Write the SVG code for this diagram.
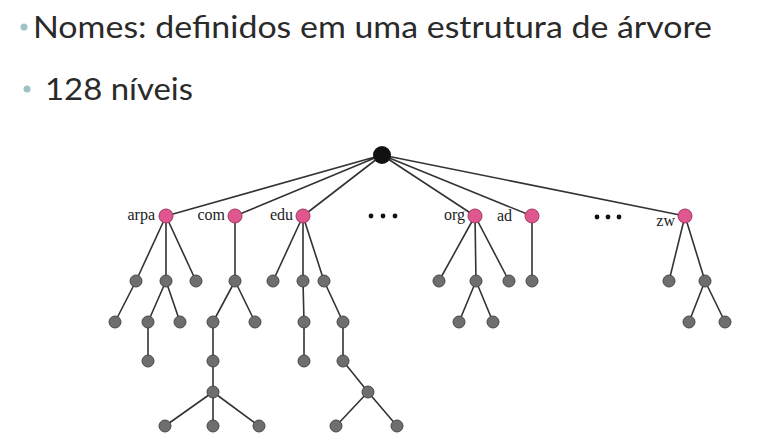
<svg xmlns="http://www.w3.org/2000/svg" width="762" height="444" viewBox="0 0 762 444">
<style>
.t{font-family:Lato,"Open Sans",sans-serif;font-size:30px;fill:#2a2a2a}
.b{fill:#9fc3c5}
.l{font-family:"Liberation Serif",serif;font-size:16px;fill:#222}
.e{stroke:#333;stroke-width:1.6;fill:none}
.g{fill:#6e6e6e;stroke:#474747;stroke-width:1}
.p{fill:#e0568f;stroke:#9a3a63;stroke-width:1}
.d{fill:#111}
</style>
<rect width="762" height="444" fill="#fff"/>
<g id="header">
<circle class="b" cx="24" cy="27" r="3.5"/>
<text class="t" x="33" y="38" textLength="679" lengthAdjust="spacingAndGlyphs">Nomes: definidos em uma estrutura de árvore</text>
<circle class="b" cx="27" cy="89" r="3.5"/>
<text class="t" x="45" y="100" textLength="148" lengthAdjust="spacingAndGlyphs">128 níveis</text>
</g>
<g id="connectors" class="e">
<path d="M382 155L166 216M382 155L235 216M382 155L303 216M382 155L475 216M382 155L532 216M382 155L685 216"/>
<path d="M166 216L136 281M166 216L166 281M166 216L196 281M235 216L235 281M303 216L273 281M303 216L303 281M303 216L324 281"/>
<path d="M475 216L439 281M475 216L476 281M475 216L509 281M532 216L532 281M685 216L669 281M685 216L705 281"/>
<path d="M136 281L115 322M166 281L148 322M166 281L180 322M148 322L148 361M235 281L213 322M235 281L255 322M213 322L213 361L213 392M213 392L165 426M213 392L213 426M213 392L259 426"/>
<path d="M303 281L304 322L304 361M324 281L343 322L343 361L368 392M368 392L336 426M368 392L397 426"/>
<path d="M476 281L459 322M476 281L493 322M705 281L689 322M705 281L725 322"/>
</g>
<g id="root"><circle cx="382" cy="155" r="9" fill="#111"/></g>
<g id="arpa"><circle class="p" cx="166" cy="216" r="7"/><text class="l" x="155" y="220" text-anchor="end">arpa</text></g>
<g id="com"><circle class="p" cx="235" cy="216" r="7"/><text class="l" x="225" y="220" text-anchor="end">com</text></g>
<g id="edu"><circle class="p" cx="303" cy="216" r="7"/><text class="l" x="293" y="220" text-anchor="end">edu</text></g>
<g id="org"><circle class="p" cx="475" cy="216" r="7"/><text class="l" x="465" y="220" text-anchor="end">org</text></g>
<g id="ad"><circle class="p" cx="532" cy="216" r="7"/><text class="l" x="512" y="221" text-anchor="end">ad</text></g>
<g id="zw"><circle class="p" cx="685" cy="216" r="7"/><text class="l" x="675" y="226" text-anchor="end">zw</text></g>
<g id="ellipsis1"><circle class="d" cx="371" cy="216" r="2.4"/><circle class="d" cx="383" cy="216" r="2.4"/><circle class="d" cx="395" cy="216" r="2.4"/></g>
<g id="ellipsis2"><circle class="d" cx="597" cy="217" r="2.4"/><circle class="d" cx="608" cy="217" r="2.4"/><circle class="d" cx="619" cy="217" r="2.4"/></g>
<g id="leaves">
<circle class="g" cx="136" cy="281" r="6"/><circle class="g" cx="166" cy="281" r="6"/><circle class="g" cx="196" cy="281" r="6"/>
<circle class="g" cx="235" cy="281" r="6"/>
<circle class="g" cx="273" cy="281" r="6"/><circle class="g" cx="303" cy="281" r="6"/><circle class="g" cx="324" cy="281" r="6"/>
<circle class="g" cx="439" cy="281" r="6"/><circle class="g" cx="476" cy="281" r="6"/><circle class="g" cx="509" cy="281" r="6"/>
<circle class="g" cx="532" cy="281" r="6"/>
<circle class="g" cx="669" cy="281" r="6"/><circle class="g" cx="705" cy="281" r="6"/>
<circle class="g" cx="115" cy="322" r="6"/><circle class="g" cx="148" cy="322" r="6"/><circle class="g" cx="180" cy="322" r="6"/>
<circle class="g" cx="213" cy="322" r="6"/><circle class="g" cx="255" cy="322" r="6"/>
<circle class="g" cx="304" cy="322" r="6"/><circle class="g" cx="343" cy="322" r="6"/>
<circle class="g" cx="459" cy="322" r="6"/><circle class="g" cx="493" cy="322" r="6"/>
<circle class="g" cx="689" cy="322" r="6"/><circle class="g" cx="725" cy="322" r="6"/>
<circle class="g" cx="148" cy="361" r="6"/><circle class="g" cx="213" cy="361" r="6"/><circle class="g" cx="304" cy="361" r="6"/><circle class="g" cx="343" cy="361" r="6"/>
<circle class="g" cx="213" cy="392" r="6"/><circle class="g" cx="368" cy="392" r="6"/>
<circle class="g" cx="165" cy="426" r="6"/><circle class="g" cx="213" cy="426" r="6"/><circle class="g" cx="259" cy="426" r="6"/>
<circle class="g" cx="336" cy="426" r="6"/><circle class="g" cx="397" cy="426" r="6"/>
</g>
</svg>
